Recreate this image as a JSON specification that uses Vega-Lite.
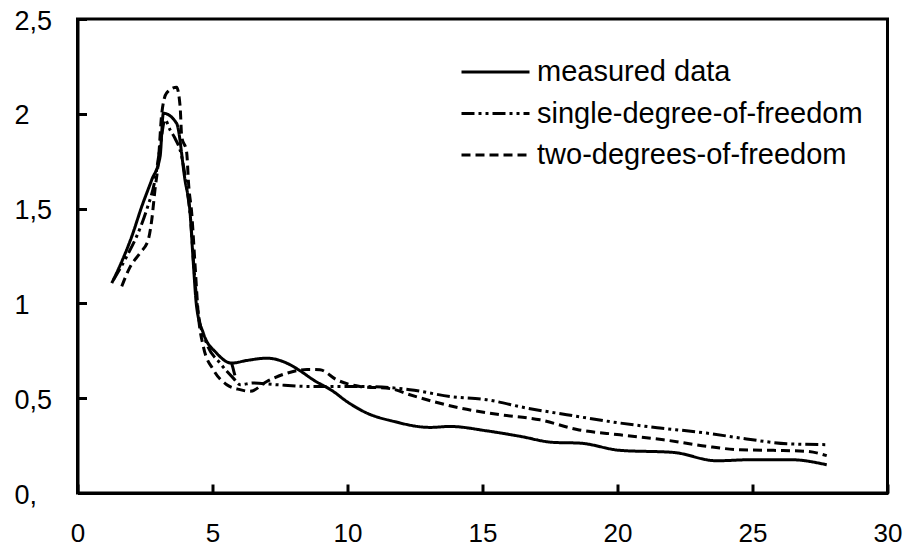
{
  "$schema": "https://vega.github.io/schema/vega-lite/v6.json",
  "width": 810,
  "height": 474,
  "autosize": "none",
  "padding": {"left": 77.5, "top": 19, "right": 21.5, "bottom": 55},
  "background": "white",
  "config": {
    "view": {"stroke": "black", "strokeWidth": 3},
    "font": "Liberation Sans"
  },
  "data": {
    "values": [
      {"series": "measured data", "part": "a", "x": 1.27, "y": 1.107},
      {"series": "measured data", "part": "a", "x": 1.64, "y": 1.221},
      {"series": "measured data", "part": "a", "x": 2.01, "y": 1.353},
      {"series": "measured data", "part": "a", "x": 2.38, "y": 1.511},
      {"series": "measured data", "part": "a", "x": 2.75, "y": 1.652},
      {"series": "measured data", "part": "a", "x": 3.06, "y": 1.775},
      {"series": "measured data", "part": "a", "x": 3.18, "y": 2.003},
      {"series": "measured data", "part": "a", "x": 3.67, "y": 1.95},
      {"series": "measured data", "part": "a", "x": 3.98, "y": 1.652},
      {"series": "measured data", "part": "a", "x": 4.17, "y": 1.476},
      {"series": "measured data", "part": "a", "x": 4.29, "y": 1.212},
      {"series": "measured data", "part": "a", "x": 4.41, "y": 0.984},
      {"series": "measured data", "part": "a", "x": 4.66, "y": 0.843},
      {"series": "measured data", "part": "a", "x": 5.15, "y": 0.738},
      {"series": "measured data", "part": "a", "x": 5.71, "y": 0.685},
      {"series": "measured data", "part": "a", "x": 6.27, "y": 0.699},
      {"series": "measured data", "part": "a", "x": 7.01, "y": 0.711},
      {"series": "measured data", "part": "a", "x": 7.75, "y": 0.685},
      {"series": "measured data", "part": "a", "x": 8.24, "y": 0.645},
      {"series": "measured data", "part": "a", "x": 8.73, "y": 0.597},
      {"series": "measured data", "part": "a", "x": 9.47, "y": 0.536},
      {"series": "measured data", "part": "a", "x": 9.97, "y": 0.483},
      {"series": "measured data", "part": "a", "x": 10.71, "y": 0.422},
      {"series": "measured data", "part": "a", "x": 11.7, "y": 0.378},
      {"series": "measured data", "part": "a", "x": 13.06, "y": 0.346},
      {"series": "measured data", "part": "a", "x": 13.8, "y": 0.351},
      {"series": "measured data", "part": "a", "x": 15.15, "y": 0.328},
      {"series": "measured data", "part": "a", "x": 16.39, "y": 0.299},
      {"series": "measured data", "part": "a", "x": 17.62, "y": 0.267},
      {"series": "measured data", "part": "a", "x": 18.61, "y": 0.263},
      {"series": "measured data", "part": "a", "x": 20.09, "y": 0.225},
      {"series": "measured data", "part": "a", "x": 22.07, "y": 0.214},
      {"series": "measured data", "part": "a", "x": 23.67, "y": 0.17},
      {"series": "measured data", "part": "a", "x": 25.03, "y": 0.176},
      {"series": "measured data", "part": "a", "x": 26.39, "y": 0.176},
      {"series": "measured data", "part": "a", "x": 27.75, "y": 0.149},
      {"series": "measured data", "part": "b", "x": 5.71, "y": 0.685},
      {"series": "measured data", "part": "b", "x": 5.83, "y": 0.62},

      {"series": "single-degree-of-freedom", "part": "a", "x": 1.33, "y": 1.124},
      {"series": "single-degree-of-freedom", "part": "a", "x": 1.82, "y": 1.247},
      {"series": "single-degree-of-freedom", "part": "a", "x": 2.19, "y": 1.353},
      {"series": "single-degree-of-freedom", "part": "a", "x": 2.56, "y": 1.493},
      {"series": "single-degree-of-freedom", "part": "a", "x": 2.87, "y": 1.652},
      {"series": "single-degree-of-freedom", "part": "a", "x": 3.06, "y": 1.827},
      {"series": "single-degree-of-freedom", "part": "a", "x": 3.24, "y": 1.968},
      {"series": "single-degree-of-freedom", "part": "a", "x": 3.43, "y": 1.915},
      {"series": "single-degree-of-freedom", "part": "a", "x": 3.61, "y": 1.871},
      {"series": "single-degree-of-freedom", "part": "a", "x": 3.86, "y": 1.775},
      {"series": "single-degree-of-freedom", "part": "a", "x": 4.04, "y": 1.616},
      {"series": "single-degree-of-freedom", "part": "a", "x": 4.19, "y": 1.441},
      {"series": "single-degree-of-freedom", "part": "a", "x": 4.31, "y": 1.195},
      {"series": "single-degree-of-freedom", "part": "a", "x": 4.47, "y": 0.949},
      {"series": "single-degree-of-freedom", "part": "a", "x": 4.78, "y": 0.79},
      {"series": "single-degree-of-freedom", "part": "a", "x": 5.28, "y": 0.685},
      {"series": "single-degree-of-freedom", "part": "a", "x": 5.77, "y": 0.606},
      {"series": "single-degree-of-freedom", "part": "a", "x": 6.02, "y": 0.571},
      {"series": "single-degree-of-freedom", "part": "a", "x": 6.51, "y": 0.58},
      {"series": "single-degree-of-freedom", "part": "a", "x": 7.38, "y": 0.571},
      {"series": "single-degree-of-freedom", "part": "a", "x": 8.61, "y": 0.562},
      {"series": "single-degree-of-freedom", "part": "a", "x": 10.46, "y": 0.562},
      {"series": "single-degree-of-freedom", "part": "a", "x": 12.31, "y": 0.545},
      {"series": "single-degree-of-freedom", "part": "a", "x": 13.8, "y": 0.509},
      {"series": "single-degree-of-freedom", "part": "a", "x": 15.15, "y": 0.492},
      {"series": "single-degree-of-freedom", "part": "a", "x": 16.64, "y": 0.448},
      {"series": "single-degree-of-freedom", "part": "a", "x": 18.12, "y": 0.413},
      {"series": "single-degree-of-freedom", "part": "a", "x": 20.09, "y": 0.369},
      {"series": "single-degree-of-freedom", "part": "a", "x": 21.57, "y": 0.343},
      {"series": "single-degree-of-freedom", "part": "a", "x": 23.3, "y": 0.316},
      {"series": "single-degree-of-freedom", "part": "a", "x": 24.78, "y": 0.285},
      {"series": "single-degree-of-freedom", "part": "a", "x": 26.27, "y": 0.26},
      {"series": "single-degree-of-freedom", "part": "a", "x": 27.75, "y": 0.255},

      {"series": "two-degrees-of-freedom", "part": "a", "x": 1.64, "y": 1.09},
      {"series": "two-degrees-of-freedom", "part": "a", "x": 1.94, "y": 1.19},
      {"series": "two-degrees-of-freedom", "part": "a", "x": 2.31, "y": 1.265},
      {"series": "two-degrees-of-freedom", "part": "a", "x": 2.62, "y": 1.335},
      {"series": "two-degrees-of-freedom", "part": "a", "x": 2.75, "y": 1.44},
      {"series": "two-degrees-of-freedom", "part": "a", "x": 2.87, "y": 1.6},
      {"series": "two-degrees-of-freedom", "part": "a", "x": 2.99, "y": 1.74},
      {"series": "two-degrees-of-freedom", "part": "a", "x": 3.12, "y": 2.0},
      {"series": "two-degrees-of-freedom", "part": "a", "x": 3.3, "y": 2.11},
      {"series": "two-degrees-of-freedom", "part": "a", "x": 3.67, "y": 2.14},
      {"series": "two-degrees-of-freedom", "part": "a", "x": 3.8, "y": 2.04},
      {"series": "two-degrees-of-freedom", "part": "a", "x": 3.86, "y": 1.88},
      {"series": "two-degrees-of-freedom", "part": "a", "x": 4.04, "y": 1.8},
      {"series": "two-degrees-of-freedom", "part": "a", "x": 4.12, "y": 1.62},
      {"series": "two-degrees-of-freedom", "part": "a", "x": 4.23, "y": 1.476},
      {"series": "two-degrees-of-freedom", "part": "a", "x": 4.35, "y": 1.212},
      {"series": "two-degrees-of-freedom", "part": "a", "x": 4.47, "y": 0.949},
      {"series": "two-degrees-of-freedom", "part": "a", "x": 4.66, "y": 0.773},
      {"series": "two-degrees-of-freedom", "part": "a", "x": 5.03, "y": 0.65},
      {"series": "two-degrees-of-freedom", "part": "a", "x": 5.53, "y": 0.571},
      {"series": "two-degrees-of-freedom", "part": "a", "x": 6.02, "y": 0.545},
      {"series": "two-degrees-of-freedom", "part": "a", "x": 6.39, "y": 0.536},
      {"series": "two-degrees-of-freedom", "part": "a", "x": 7.01, "y": 0.588},
      {"series": "two-degrees-of-freedom", "part": "a", "x": 7.99, "y": 0.641},
      {"series": "two-degrees-of-freedom", "part": "a", "x": 8.5, "y": 0.652},
      {"series": "two-degrees-of-freedom", "part": "a", "x": 8.98, "y": 0.65},
      {"series": "two-degrees-of-freedom", "part": "a", "x": 9.6, "y": 0.597},
      {"series": "two-degrees-of-freedom", "part": "a", "x": 10.46, "y": 0.562},
      {"series": "two-degrees-of-freedom", "part": "a", "x": 11.6, "y": 0.55},
      {"series": "two-degrees-of-freedom", "part": "a", "x": 12.31, "y": 0.518},
      {"series": "two-degrees-of-freedom", "part": "a", "x": 14.17, "y": 0.448},
      {"series": "two-degrees-of-freedom", "part": "a", "x": 15.65, "y": 0.413},
      {"series": "two-degrees-of-freedom", "part": "a", "x": 17.13, "y": 0.386},
      {"series": "two-degrees-of-freedom", "part": "a", "x": 18.5, "y": 0.335},
      {"series": "two-degrees-of-freedom", "part": "a", "x": 20.09, "y": 0.307},
      {"series": "two-degrees-of-freedom", "part": "a", "x": 21.7, "y": 0.281},
      {"series": "two-degrees-of-freedom", "part": "a", "x": 23.3, "y": 0.246},
      {"series": "two-degrees-of-freedom", "part": "a", "x": 24.54, "y": 0.228},
      {"series": "two-degrees-of-freedom", "part": "a", "x": 25.77, "y": 0.225},
      {"series": "two-degrees-of-freedom", "part": "a", "x": 27.0, "y": 0.22},
      {"series": "two-degrees-of-freedom", "part": "a", "x": 27.75, "y": 0.197}
    ]
  },
  "mark": {"type": "line", "interpolate": "monotone", "color": "black", "strokeWidth": 3},
  "encoding": {
    "x": {
      "field": "x", "type": "quantitative",
      "scale": {"domain": [0, 30], "nice": false, "zero": false},
      "axis": {
        "title": null, "values": [0, 5, 10, 15, 20, 25, 30], "grid": false,
        "domainColor": "black", "domainWidth": 3,
        "ticks": true, "tickColor": "black", "tickWidth": 3, "tickSize": -9,
        "labelFontSize": 26, "labelFont": "Liberation Sans", "labelColor": "black",
        "labelPadding": 36.5, "labelFlush": false, "labelOverlap": false
      }
    },
    "y": {
      "field": "y", "type": "quantitative",
      "scale": {"domain": [0, 2.5], "nice": false},
      "axis": {
        "title": null, "values": [0, 0.5, 1, 1.5, 2, 2.5], "grid": false,
        "labelExpr": "datum.value == 0 ? '0,' : replace(format(datum.value, '~g'), '.', ',')",
        "domainColor": "black", "domainWidth": 3,
        "ticks": true, "tickColor": "black", "tickWidth": 3, "tickSize": -9,
        "labelFontSize": 27, "labelFont": "Liberation Sans", "labelColor": "black",
        "labelAlign": "left", "labelBaseline": "middle", "labelPadding": 72.5,
        "labelOffset": 2, "labelFlush": false, "labelOverlap": false
      }
    },
    "strokeDash": {
      "field": "series", "type": "nominal",
      "scale": {
        "domain": ["measured data", "single-degree-of-freedom", "two-degrees-of-freedom"],
        "range": [[1, 0], [13, 4, 3, 4, 3, 4], [9, 5]]
      },
      "legend": {
        "title": null, "orient": "none", "legendX": 382.5, "legendY": 38,
        "symbolType": "stroke", "symbolSize": 4624, "symbolStrokeWidth": 3,
        "symbolStrokeColor": "black", "clipHeight": 30, "rowPadding": 11.5,
        "labelFontSize": 29, "labelFont": "Liberation Sans", "labelColor": "black",
        "labelOffset": 6, "padding": 0, "labelLimit": 0
      }
    },
    "detail": {"field": "part", "type": "nominal"}
  }
}
